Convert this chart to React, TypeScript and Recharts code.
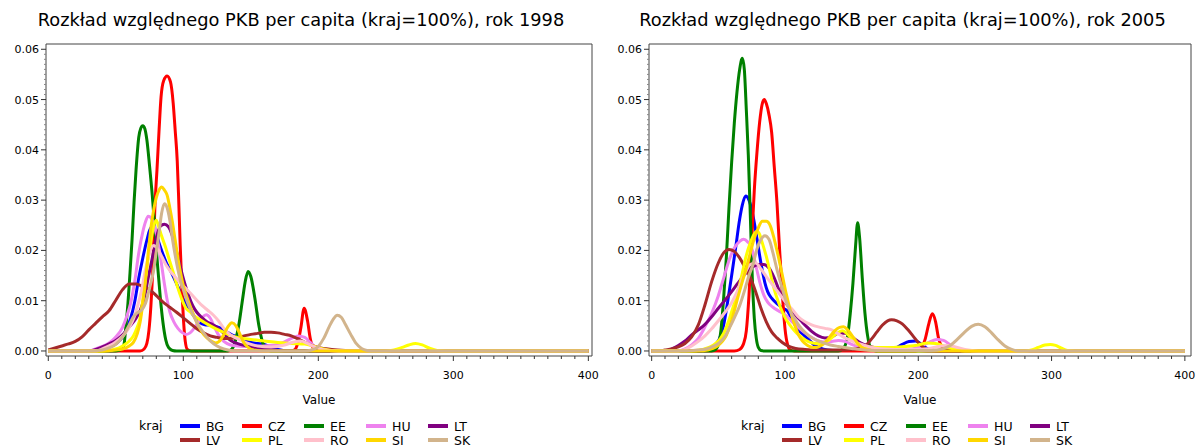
import React from 'react';
import { LineChart, Line, XAxis, YAxis, ReferenceArea, Legend } from 'recharts';

type Pt = [number, number];

// kraje w kolejności legendy / rysowania
const countries = ['BG', 'CZ', 'EE', 'HU', 'LT', 'LV', 'PL', 'RO', 'SI', 'SK'];

const colors: Record<string, string> = {
  BG: '#0000ff',
  CZ: '#ff0000',
  EE: '#008000',
  HU: '#ee82ee',
  LT: '#800080',
  LV: '#a52a2a',
  PL: '#ffff00',
  RO: '#ffc0cb',
  SI: '#ffd700',
  SK: '#d2b48c',
};

const xMajorTicks = [0, 100, 200, 300, 400];
const yMajorTicks = [0, 0.01, 0.02, 0.03, 0.04, 0.05, 0.06];
const xTicks = Array.from({ length: 41 }, (_, i) => i * 10);
const yTicks = Array.from({ length: 61 }, (_, i) => i / 1000);

// ---------- rok 1998 ----------
const bg1998: Pt[] = [[0, 0], [30, 0], [40, 0.0003], [45, 0.0007], [50, 0.0014], [55, 0.0028], [58, 0.0044], [61, 0.0065], [64, 0.0098], [67, 0.0145], [70, 0.0185], [73, 0.022], [76, 0.0245], [79, 0.024], [82, 0.0215], [85, 0.0192], [88, 0.0172], [91, 0.0157], [94, 0.014], [97, 0.0122], [100, 0.0104], [104, 0.0085], [108, 0.0069], [112, 0.0057], [116, 0.0052], [120, 0.0051], [124, 0.0049], [128, 0.0045], [132, 0.0038], [136, 0.0032], [140, 0.0028], [145, 0.0021], [150, 0.0017], [155, 0.0015], [160, 0.0013], [165, 0.0008], [170, 0.0003], [178, 0], [400, 0]];
const cz1998: Pt[] = [[0, 0], [68, 0], [71, 0.0004], [73, 0.0015], [74.5, 0.004], [76, 0.009], [77.5, 0.017], [79, 0.029], [80.5, 0.036], [82, 0.0437], [83.5, 0.0505], [85.5, 0.0538], [88, 0.0547], [90.5, 0.0535], [92.5, 0.0493], [94, 0.0438], [95.5, 0.0378], [96.5, 0.0308], [97.7, 0.021], [99, 0.0123], [100.3, 0.0055], [101.5, 0.0018], [103, 0.0003], [106, 0], [180, 0], [183, 0.0004], [185, 0.0018], [187, 0.0045], [189.5, 0.0085], [192, 0.006], [194, 0.0025], [196, 0.0007], [199, 0], [400, 0]];
const ee1998: Pt[] = [[0, 0], [50, 0], [54, 0.0003], [56, 0.0012], [57.5, 0.005], [59, 0.0095], [60.5, 0.0155], [62, 0.022], [63.5, 0.0295], [65, 0.036], [67, 0.0425], [68.5, 0.0443], [70, 0.0448], [71.5, 0.0442], [73, 0.042], [75, 0.0368], [77, 0.031], [79, 0.024], [81, 0.0168], [83, 0.0105], [85, 0.0055], [87, 0.0022], [89, 0.0007], [92, 0.0001], [95, 0], [133, 0], [136, 0.0004], [138, 0.0015], [141, 0.005], [144, 0.0105], [146, 0.014], [148, 0.0158], [150, 0.0148], [153, 0.0105], [156, 0.005], [159, 0.0015], [162, 0.0003], [165, 0], [400, 0]];
const hu1998: Pt[] = [[0, 0], [30, 0], [35, 0.0004], [40, 0.0009], [45, 0.0016], [50, 0.0028], [55, 0.0047], [58, 0.0068], [61, 0.0095], [64, 0.0138], [67, 0.0195], [70, 0.0237], [72, 0.0257], [74, 0.0268], [76, 0.0265], [78, 0.0253], [80, 0.0233], [82, 0.0205], [84, 0.017], [86, 0.0133], [88, 0.0102], [90, 0.0078], [93, 0.0058], [96, 0.0045], [99, 0.0037], [102, 0.0033], [105, 0.0036], [108, 0.0045], [111, 0.0057], [114, 0.0067], [117, 0.0072], [120, 0.0065], [123, 0.0048], [126, 0.0032], [130, 0.0019], [135, 0.0012], [140, 0.001], [150, 0.0009], [160, 0.001], [170, 0.0013], [175, 0.0018], [180, 0.0025], [185, 0.003], [190, 0.0027], [194, 0.0017], [198, 0.0008], [205, 0.0002], [215, 0], [400, 0]];
const lt1998: Pt[] = [[0, 0], [30, 0], [40, 0.0008], [45, 0.0014], [50, 0.0021], [55, 0.0032], [60, 0.0048], [65, 0.0065], [68, 0.008], [71, 0.0105], [74, 0.0145], [77, 0.0185], [80, 0.0225], [83, 0.0248], [86, 0.0252], [89, 0.0247], [92, 0.0228], [95, 0.0198], [98, 0.0165], [101, 0.0135], [104, 0.011], [107, 0.009], [110, 0.0077], [114, 0.0066], [118, 0.0057], [122, 0.0052], [126, 0.0045], [130, 0.0035], [134, 0.0023], [138, 0.0017], [142, 0.0013], [147, 0.001], [155, 0.0006], [165, 0.0003], [175, 0], [400, 0]];
const lv1998: Pt[] = [[0, 0.0002], [5, 0.0006], [10, 0.001], [15, 0.0014], [20, 0.0019], [25, 0.0028], [30, 0.0042], [35, 0.0055], [40, 0.0068], [45, 0.008], [50, 0.0101], [55, 0.0122], [60, 0.0133], [65, 0.0133], [70, 0.0128], [75, 0.0122], [80, 0.011], [85, 0.0097], [90, 0.0087], [95, 0.0077], [100, 0.0066], [105, 0.0055], [110, 0.0044], [115, 0.0036], [120, 0.003], [125, 0.0027], [130, 0.0025], [135, 0.0025], [140, 0.0027], [145, 0.003], [150, 0.0033], [155, 0.0035], [160, 0.0037], [165, 0.0037], [170, 0.0036], [175, 0.0033], [180, 0.003], [185, 0.0024], [190, 0.0017], [195, 0.0011], [200, 0.0007], [210, 0.0003], [220, 0.0001], [230, 0], [400, 0]];
const pl1998: Pt[] = [[0, 0], [40, 0], [50, 0.0004], [55, 0.001], [60, 0.002], [63, 0.003], [66, 0.0048], [68, 0.0065], [70, 0.0102], [72, 0.0145], [74, 0.0185], [76, 0.0218], [78, 0.0248], [80, 0.026], [82, 0.0245], [84, 0.0228], [87, 0.0205], [90, 0.0178], [93, 0.0152], [96, 0.0125], [99, 0.0102], [102, 0.0085], [105, 0.0078], [108, 0.007], [112, 0.0063], [116, 0.0056], [120, 0.005], [125, 0.0043], [130, 0.0037], [135, 0.0031], [140, 0.0027], [150, 0.0023], [160, 0.002], [170, 0.0017], [180, 0.0015], [190, 0.0014], [196, 0.001], [202, 0.0005], [210, 0.0001], [220, 0], [250, 0], [256, 0.0002], [262, 0.0007], [267, 0.0012], [272, 0.0015], [277, 0.0012], [282, 0.0006], [288, 0.0001], [295, 0], [400, 0]];
const ro1998: Pt[] = [[0, 0], [35, 0], [40, 0.0004], [45, 0.001], [50, 0.0018], [55, 0.0029], [60, 0.0047], [63, 0.0063], [66, 0.0088], [69, 0.012], [72, 0.0162], [75, 0.0195], [78, 0.021], [81, 0.0203], [84, 0.0188], [87, 0.0172], [90, 0.016], [94, 0.0147], [98, 0.0135], [102, 0.0124], [106, 0.0113], [110, 0.0101], [114, 0.009], [118, 0.0081], [122, 0.0072], [126, 0.006], [130, 0.0045], [134, 0.0034], [138, 0.0027], [142, 0.0022], [148, 0.0015], [155, 0.001], [165, 0.0008], [175, 0.0012], [182, 0.0018], [187, 0.002], [192, 0.0015], [198, 0.0007], [205, 0.0002], [215, 0], [400, 0]];
const si1998: Pt[] = [[0, 0], [40, 0], [50, 0.0002], [55, 0.0004], [60, 0.001], [63, 0.0017], [66, 0.0035], [68, 0.0057], [70, 0.0095], [72, 0.014], [74, 0.0195], [76, 0.0245], [78, 0.028], [80, 0.0305], [82, 0.032], [84, 0.0326], [86, 0.032], [88, 0.031], [90, 0.0285], [92, 0.0255], [94, 0.022], [96, 0.0185], [98, 0.0155], [100, 0.013], [103, 0.0105], [106, 0.0083], [109, 0.0063], [112, 0.0046], [115, 0.0033], [118, 0.0025], [121, 0.0019], [124, 0.0016], [127, 0.002], [130, 0.0033], [133, 0.0048], [136, 0.0056], [139, 0.005], [142, 0.0033], [145, 0.0016], [148, 0.0007], [152, 0.0002], [160, 0], [400, 0]];
const sk1998: Pt[] = [[0, 0], [30, 0], [40, 0.0002], [45, 0.0006], [50, 0.0013], [55, 0.0028], [60, 0.0052], [63, 0.0068], [66, 0.0076], [69, 0.0081], [72, 0.0095], [75, 0.0125], [78, 0.016], [80, 0.0198], [82, 0.0235], [84, 0.0275], [86, 0.0293], [88, 0.0285], [90, 0.026], [92, 0.0222], [94, 0.019], [96, 0.0162], [98, 0.0138], [100, 0.0122], [102, 0.0105], [105, 0.0084], [108, 0.0068], [111, 0.0052], [114, 0.004], [117, 0.0029], [120, 0.002], [125, 0.001], [130, 0.0004], [135, 0.0001], [140, 0], [190, 0], [195, 0.0002], [200, 0.0009], [204, 0.0025], [208, 0.0048], [211, 0.0063], [214, 0.0071], [217, 0.0067], [220, 0.0053], [224, 0.0033], [228, 0.0015], [232, 0.0005], [236, 0.0001], [240, 0], [400, 0]];

// ---------- rok 2005 ----------
const bg2005: Pt[] = [[0, 0], [35, 0], [40, 0.0002], [45, 0.0007], [48, 0.0013], [51, 0.0025], [54, 0.0052], [57, 0.0098], [60, 0.015], [63, 0.0205], [66, 0.0262], [68, 0.029], [70.5, 0.0308], [73, 0.03], [75, 0.0282], [77, 0.0255], [79, 0.0223], [81, 0.019], [83, 0.016], [85, 0.0135], [87, 0.0118], [90, 0.0105], [94, 0.0094], [98, 0.0086], [102, 0.0079], [106, 0.0059], [110, 0.0042], [114, 0.0032], [118, 0.0022], [122, 0.0012], [126, 0.0006], [132, 0.0002], [140, 0.0001], [175, 0.0001], [182, 0.0004], [188, 0.0013], [193, 0.0019], [198, 0.002], [202, 0.0014], [206, 0.0006], [212, 0.0001], [220, 0], [400, 0]];
const cz2005: Pt[] = [[0, 0], [62, 0], [66, 0.0003], [69, 0.0015], [71, 0.004], [73, 0.011], [75, 0.0215], [77, 0.032], [79, 0.0395], [81, 0.0455], [83, 0.0492], [84.5, 0.05], [86, 0.0492], [88, 0.047], [90, 0.0435], [92, 0.0365], [94, 0.0295], [96, 0.02], [98, 0.0115], [100, 0.0045], [102, 0.0012], [104, 0.0002], [107, 0], [198, 0], [202, 0.0005], [205, 0.0022], [208, 0.0055], [210.5, 0.0074], [213, 0.0058], [215, 0.0028], [218, 0.0007], [222, 0], [400, 0]];
const ee2005: Pt[] = [[0, 0], [45, 0], [48, 0.0003], [50, 0.0012], [52, 0.0042], [54, 0.0105], [56, 0.0185], [58, 0.0285], [60, 0.0375], [62, 0.0453], [64, 0.0515], [66, 0.056], [68, 0.0582], [69.5, 0.056], [71, 0.048], [72.5, 0.039], [74, 0.027], [75.5, 0.0145], [77, 0.0065], [78.5, 0.0025], [80, 0.0007], [82, 0.0001], [85, 0], [140, 0], [144, 0.0006], [147, 0.003], [149, 0.0075], [151, 0.0135], [153, 0.021], [154.5, 0.0255], [156, 0.0225], [158, 0.0145], [160, 0.0075], [162, 0.003], [164, 0.0008], [167, 0.0001], [170, 0], [400, 0]];
const hu2005: Pt[] = [[0, 0], [20, 0], [25, 0.0004], [30, 0.0012], [35, 0.0025], [40, 0.0048], [45, 0.0075], [50, 0.011], [54, 0.0145], [58, 0.018], [62, 0.0205], [66, 0.0218], [69, 0.0222], [72, 0.0217], [75, 0.0205], [78, 0.0172], [81, 0.0138], [84, 0.0112], [87, 0.0097], [91, 0.0087], [95, 0.008], [100, 0.0072], [105, 0.0059], [110, 0.0047], [115, 0.0036], [120, 0.0027], [125, 0.002], [130, 0.0018], [135, 0.0019], [140, 0.0021], [145, 0.0019], [150, 0.0013], [155, 0.0008], [165, 0.0004], [180, 0.0003], [195, 0.0004], [202, 0.0009], [208, 0.0017], [214, 0.0023], [219, 0.0021], [224, 0.0012], [229, 0.0004], [235, 0], [400, 0]];
const lt2005: Pt[] = [[0, 0], [10, 0], [15, 0.0004], [20, 0.0011], [25, 0.002], [30, 0.0032], [35, 0.0042], [40, 0.0053], [45, 0.0068], [50, 0.0085], [55, 0.0101], [60, 0.0118], [65, 0.0136], [70, 0.0153], [75, 0.0166], [80, 0.0172], [84, 0.0172], [88, 0.0165], [92, 0.0145], [96, 0.0118], [100, 0.0098], [104, 0.0084], [108, 0.0071], [112, 0.006], [116, 0.0049], [120, 0.0039], [125, 0.003], [130, 0.0026], [135, 0.0028], [140, 0.0035], [145, 0.0035], [150, 0.0028], [155, 0.0019], [160, 0.0012], [165, 0.0008], [175, 0.0004], [190, 0.0002], [210, 0], [400, 0]];
const lv2005: Pt[] = [[0, 0], [5, 0], [10, 0.0002], [15, 0.0004], [20, 0.0008], [25, 0.0015], [30, 0.0028], [35, 0.0052], [40, 0.0092], [45, 0.0138], [50, 0.0175], [54, 0.0195], [58, 0.0202], [62, 0.0198], [66, 0.0185], [70, 0.0166], [74, 0.0146], [78, 0.0118], [82, 0.0085], [86, 0.0058], [90, 0.0038], [94, 0.0026], [98, 0.0017], [103, 0.0009], [108, 0.0005], [115, 0.0003], [125, 0.0002], [140, 0.0002], [150, 0.0003], [156, 0.0006], [161, 0.0012], [165, 0.0024], [169, 0.0038], [173, 0.0051], [177, 0.006], [180, 0.0062], [184, 0.006], [188, 0.0054], [192, 0.0043], [196, 0.003], [200, 0.0017], [204, 0.0007], [208, 0.0002], [215, 0], [400, 0]];
const pl2005: Pt[] = [[0, 0], [30, 0], [38, 0.0003], [44, 0.0008], [48, 0.0015], [52, 0.0026], [56, 0.0047], [60, 0.0078], [64, 0.0112], [68, 0.0155], [71, 0.019], [74, 0.0215], [77, 0.0233], [79, 0.0238], [81, 0.0232], [83, 0.0215], [86, 0.0188], [89, 0.0155], [92, 0.0122], [95, 0.0098], [98, 0.0078], [101, 0.0062], [105, 0.0047], [109, 0.0035], [113, 0.0026], [118, 0.0018], [123, 0.0015], [128, 0.0016], [133, 0.0022], [138, 0.0033], [143, 0.004], [147, 0.0033], [151, 0.0021], [155, 0.0013], [160, 0.0009], [170, 0.0007], [180, 0.0007], [190, 0.0009], [200, 0.0012], [207, 0.0016], [213, 0.0015], [220, 0.0009], [228, 0.0003], [235, 0], [280, 0], [285, 0.0002], [290, 0.0007], [295, 0.0012], [299, 0.0013], [303, 0.0011], [307, 0.0006], [312, 0.0001], [318, 0], [400, 0]];
const ro2005: Pt[] = [[0, 0], [20, 0], [25, 0.0003], [30, 0.001], [35, 0.0019], [40, 0.003], [45, 0.0044], [50, 0.006], [55, 0.0077], [60, 0.0096], [65, 0.0123], [70, 0.0155], [74, 0.0172], [78, 0.0175], [82, 0.0163], [86, 0.0148], [90, 0.0134], [94, 0.012], [98, 0.0106], [102, 0.0092], [106, 0.0081], [110, 0.0068], [115, 0.0058], [120, 0.0052], [125, 0.0048], [130, 0.0045], [135, 0.0042], [140, 0.0034], [145, 0.0026], [150, 0.002], [155, 0.0015], [160, 0.0011], [165, 0.0007], [175, 0.0004], [190, 0.0003], [205, 0.0004], [215, 0.0009], [222, 0.0011], [228, 0.0008], [235, 0.0003], [245, 0], [400, 0]];
const si2005: Pt[] = [[0, 0], [35, 0], [42, 0.0002], [46, 0.0005], [50, 0.0011], [53, 0.0019], [56, 0.0031], [59, 0.0052], [62, 0.008], [65, 0.011], [68, 0.0138], [71, 0.0165], [74, 0.0195], [77, 0.0224], [80, 0.0245], [83, 0.0258], [86, 0.0258], [89, 0.0249], [92, 0.0222], [95, 0.0188], [98, 0.0151], [101, 0.0113], [104, 0.0081], [107, 0.0054], [110, 0.0033], [113, 0.002], [117, 0.0011], [121, 0.0007], [125, 0.0008], [129, 0.0014], [133, 0.0026], [137, 0.0039], [141, 0.0047], [144, 0.0048], [147, 0.0042], [151, 0.0028], [155, 0.0014], [159, 0.0005], [165, 0.0001], [175, 0], [400, 0]];
const sk2005: Pt[] = [[0, 0], [25, 0], [35, 0.0002], [41, 0.0004], [46, 0.0009], [51, 0.0017], [55, 0.0029], [58, 0.0044], [62, 0.0066], [66, 0.009], [70, 0.0123], [73, 0.015], [76, 0.0172], [79, 0.0203], [82, 0.0222], [85, 0.0229], [88, 0.0222], [91, 0.0195], [94, 0.0162], [97, 0.0133], [100, 0.0106], [103, 0.0084], [107, 0.0065], [111, 0.0049], [115, 0.0037], [119, 0.0028], [124, 0.0021], [129, 0.0016], [134, 0.0012], [140, 0.0009], [150, 0.0005], [160, 0.0002], [175, 0.0001], [210, 0.0001], [218, 0.0004], [224, 0.0011], [230, 0.0025], [235, 0.0038], [240, 0.0049], [245, 0.0053], [250, 0.0048], [255, 0.0036], [260, 0.0022], [265, 0.001], [270, 0.0003], [276, 0], [400, 0]];

const data1998: Record<string, Pt[]> = {
  BG: bg1998, CZ: cz1998, EE: ee1998, HU: hu1998, LT: lt1998,
  LV: lv1998, PL: pl1998, RO: ro1998, SI: si1998, SK: sk1998,
};
const data2005: Record<string, Pt[]> = {
  BG: bg2005, CZ: cz2005, EE: ee2005, HU: hu2005, LT: lt2005,
  LV: lv2005, PL: pl2005, RO: ro2005, SI: si2005, SK: sk2005,
};

const FONT = '"DejaVu Sans", Verdana, sans-serif';
const Y_DOMAIN: [number, number] = [-0.001, 0.06105];

const XTick = (props: any) => {
  const { x, y, payload } = props;
  const v = payload.value;
  const major = xMajorTicks.includes(Math.round(v));
  return (
    <g>
      <line x1={x} x2={x} y1={y} y2={y + (major ? 5 : 3)} stroke="#333" />
      {major && (
        <text x={x} y={y + 23} textAnchor="middle" fontSize={11} fill="#000" fontFamily={FONT}>
          {v}
        </text>
      )}
    </g>
  );
};

const YTick = (props: any) => {
  const { x, y, payload } = props;
  const v = payload.value;
  const major = yMajorTicks.some((t) => Math.abs(t - v) < 1e-6);
  return (
    <g>
      <line x1={x - (major ? 5 : 2)} x2={x} y1={y} y2={y} stroke={major ? '#333' : '#888'} />
      {major && (
        <text x={x - 7} y={y + 4} textAnchor="end" fontSize={11} fill="#000" fontFamily={FONT}>
          {v.toFixed(2)}
        </text>
      )}
    </g>
  );
};

const KrajLegend = () => (
  <div style={{ display: 'flex', alignItems: 'flex-start', fontSize: 12.5, fontFamily: FONT, color: '#000' }}>
    <div style={{ width: 41, lineHeight: '14px' }}>kraj</div>
    <div style={{ display: 'grid', gridTemplateColumns: 'repeat(5, 62px)' }}>
      {countries.map((c) => (
        <div key={c} style={{ display: 'flex', alignItems: 'center', height: 14 }}>
          <span style={{ display: 'inline-block', width: 20, height: 4, background: colors[c], marginRight: 6 }} />
          <span>{c}</span>
        </div>
      ))}
    </div>
  </div>
);

interface PanelProps {
  title: string;
  data: Record<string, Pt[]>;
  left: number;
  width: number;
  plotLeft: number;
  plotWidth: number;
  xDomain: [number, number];
}

const Panel = ({ title, data, left, width, plotLeft, plotWidth, xDomain }: PanelProps) => (
  <div style={{ position: 'absolute', left, top: 0, width, height: 448 }}>
    <div style={{ position: 'absolute', left: 0, top: 9, width, textAlign: 'center', fontSize: 17.8, fontFamily: FONT, color: '#000', whiteSpace: 'nowrap' }}>
      {title}
    </div>
    <LineChart width={width} height={448} margin={{ top: 44, left: 0, right: width - plotLeft - plotWidth, bottom: 42 }}>
      <XAxis
        type="number"
        dataKey="x"
        domain={xDomain}
        ticks={xTicks}
        allowDataOverflow
        interval={0}
        tickSize={0}
        tickMargin={0}
        tickLine={false}
        axisLine={false}
        tick={<XTick />}
        height={50}
        label={{ value: 'Value', position: 'insideBottom', offset: 2, fontSize: 12, fill: '#000', fontFamily: FONT }}
      />
      <YAxis
        type="number"
        domain={Y_DOMAIN}
        ticks={yTicks}
        allowDataOverflow
        interval={0}
        width={plotLeft}
        tickSize={0}
        tickMargin={0}
        tickLine={false}
        axisLine={false}
        tick={<YTick />}
      />
      <ReferenceArea x1={xDomain[0]} x2={xDomain[1]} y1={Y_DOMAIN[0]} y2={Y_DOMAIN[1]} fill="none" stroke="#444" strokeWidth={1} />
      {countries.map((c) => (
        <Line
          key={c}
          name={c}
          data={data[c].map(([x, y]) => ({ x, y }))}
          dataKey="y"
          type="monotone"
          stroke={colors[c]}
          strokeWidth={3}
          dot={false}
          activeDot={false}
          isAnimationActive={false}
        />
      ))}
      <Legend
        content={<KrajLegend />}
        layout="horizontal"
        verticalAlign="middle"
        align="center"
        wrapperStyle={{ position: 'absolute', left: 139, top: 419, width: 'auto' }}
      />
    </LineChart>
  </div>
);

export default function App() {
  return (
    <div style={{ position: 'absolute', left: 0, top: 0, width: 1203, height: 448, background: '#fff' }}>
      <Panel
        title="Rozkład względnego PKB per capita (kraj=100%), rok 1998"
        data={data1998}
        left={0}
        width={602}
        plotLeft={46}
        plotWidth={546}
        xDomain={[-1.7, 402.7]}
      />
      <Panel
        title="Rozkład względnego PKB per capita (kraj=100%), rok 2005"
        data={data2005}
        left={602}
        width={601}
        plotLeft={47}
        plotWidth={542}
        xDomain={[-2, 404.6]}
      />
    </div>
  );
}
